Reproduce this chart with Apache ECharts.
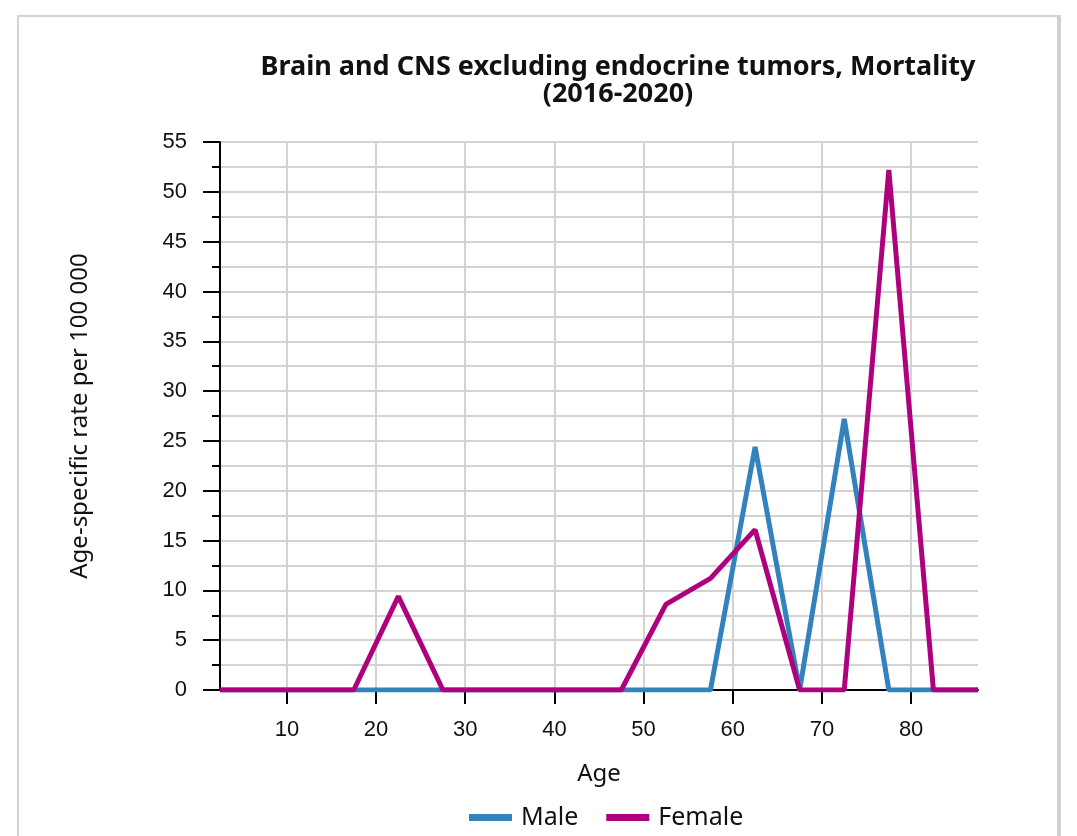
<!DOCTYPE html>
<html>
<head>
<meta charset="utf-8">
<script src="https://cdn.jsdelivr.net/npm/echarts@6/dist/echarts.min.js"></script>
<style>
html,body{margin:0;padding:0;background:#fff;width:1077px;height:836px;overflow:hidden;}
#card{position:absolute;left:17px;top:15px;width:1038px;height:900px;border-left:2px solid #d2d2d2;border-top:2px solid #d2d2d2;border-right:4px solid #d0d0d0;background:#fff;}
#chart{position:absolute;left:0;top:0;width:1077px;height:836px;}
</style>
</head>
<body>
<div id="card"></div>
<div id="chart"></div>
<script>
const titleText = 'Brain and CNS excluding endocrine tumors, Mortality\n(2016-2020)';
const ages = [2.5, 7.5, 12.5, 17.5, 22.5, 27.5, 32.5, 37.5, 42.5, 47.5, 52.5, 57.5, 62.5, 67.5, 72.5, 77.5, 82.5, 87.5];
const maleRates = [0, 0, 0, 0, 0, 0, 0, 0, 0, 0, 0, 0, 24.4, 0, 27.2, 0, 0, 0];
const femaleRates = [0, 0, 0, 0, 9.4, 0, 0, 0, 0, 0, 8.6, 11.2, 16.1, 0, 0, 52.2, 0, 0];
const xTicks = [10, 20, 30, 40, 50, 60, 70, 80];
const seriesNames = ['Male', 'Female'];
const xName = 'Age';
const yName = 'Age-specific rate per 100 000';

const pair = (xs, ys) => xs.map((x, i) => [x, ys[i]]);
const chart = echarts.init(document.getElementById('chart'), null, {renderer: 'canvas'});
const sans = '"Source Sans Pro", "Noto Sans", sans-serif';
const arial = '"Liberation Sans", Arial, sans-serif';
chart.setOption({
  animation: false,
  backgroundColor: 'transparent',
  title: {
    text: titleText,
    left: 613, top: 49, textAlign: 'center',
    textStyle: {fontFamily: sans, fontWeight: 'bold', fontSize: 27, lineHeight: 27, color: '#111'}
  },
  grid: {left: 220, right: 99, top: 142, bottom: 146, containLabel: false},
  legend: {
    bottom: 1, left: 464,
    itemWidth: 43, itemHeight: 7, itemGap: 28, icon: 'rect',
    textStyle: {fontFamily: sans, fontSize: 25, color: '#111', padding: [0, 0, 0, 4]},
    data: seriesNames
  },
  xAxis: {
    type: 'value', min: 2.5, max: 87.5,
    name: xName, nameLocation: 'middle', nameGap: 72,
    nameTextStyle: {fontFamily: sans, fontSize: 24, color: '#111'},
    axisLine: {show: true, lineStyle: {color: '#000', width: 2}},
    axisTick: {show: true, length: 14, customValues: xTicks, lineStyle: {color: '#000', width: 2}},
    axisLabel: {customValues: xTicks, margin: 29, fontFamily: arial, fontSize: 22, color: '#111'},
    splitLine: {show: true, lineStyle: {color: '#d3d3d3', width: 2}}
  },
  yAxis: {
    type: 'value', min: 0, max: 55, interval: 5,
    name: yName, nameLocation: 'middle', nameGap: 128, nameRotate: 90,
    nameTextStyle: {fontFamily: sans, fontSize: 24, color: '#111'},
    axisLine: {show: true, lineStyle: {color: '#000', width: 2}},
    axisTick: {show: true, length: 17, lineStyle: {color: '#000', width: 2}},
    minorTick: {show: true, splitNumber: 2, length: 8, lineStyle: {color: '#000', width: 2}},
    axisLabel: {margin: 33, fontFamily: arial, fontSize: 22, color: '#111'},
    splitLine: {show: true, lineStyle: {color: '#d3d3d3', width: 2}},
    minorSplitLine: {show: true, lineStyle: {color: '#d3d3d3', width: 2}}
  },
  series: [
    {name: seriesNames[0], type: 'line', data: pair(ages, maleRates), symbol: 'none',
     lineStyle: {color: '#3182bd', width: 5}, itemStyle: {color: '#3182bd'}, z: 2},
    {name: seriesNames[1], type: 'line', data: pair(ages, femaleRates), symbol: 'none',
     lineStyle: {color: '#ae017e', width: 5}, itemStyle: {color: '#ae017e'}, z: 3}
  ]
});
</script>
</body>
</html>
